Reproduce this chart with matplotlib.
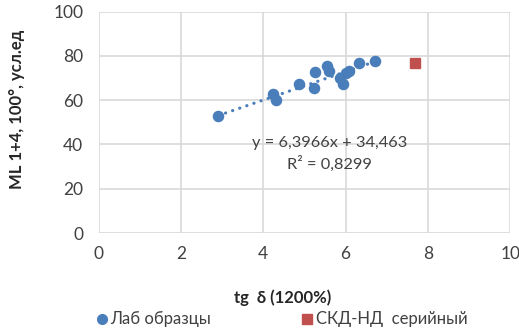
import numpy as np
import matplotlib
matplotlib.use("Agg")
import matplotlib.pyplot as plt
from matplotlib.lines import Line2D

plt.rcParams['font.family'] = ['Lato', 'Open Sans', 'DejaVu Sans']

# --- data ---
lab_x = [2.91, 4.24, 4.31, 4.87, 5.24, 5.25, 5.55, 5.60, 5.86, 5.93, 6.02, 6.09, 6.33, 6.71]
lab_y = [52.8, 63.0, 60.0, 67.2, 65.6, 72.8, 75.3, 73.2, 69.8, 67.5, 72.1, 73.2, 76.6, 77.7]
serial_x = [7.68]
serial_y = [77.0]

slope, intercept = 6.3966, 34.463
r2 = 0.8299

x_ticks = [0, 2, 4, 6, 8, 10]
y_ticks = [0, 20, 40, 60, 80, 100]

BLUE = '#4A7EBB'
RED = '#C0504D'
TXT = '#404040'

fig = plt.figure(figsize=(5.19, 3.31), dpi=100)
ax = fig.add_axes([0.190, 0.296, 0.793, 0.669])

# trendline over the data range
tx = np.array([min(lab_x), max(lab_x)])
ax.plot(tx, slope * tx + intercept, color=BLUE, lw=2.3,
        linestyle=(0, (0.05, 2.3)), dash_capstyle='round', zorder=2)

ax.plot(lab_x, lab_y, 'o', color=BLUE, ms=7.3, mec=BLUE, zorder=3)
ax.plot(serial_x, serial_y, 's', color=RED, ms=6.5, mec=RED, zorder=3)

ax.text(5.62, 40.6, f'y = {slope:.4f}x + {intercept:.3f}'.replace('.', ','),
        ha='center', va='center', fontsize=11.8, color=TXT)
ax.text(5.62, 31.2, f'R² = {r2:.4f}'.replace('.', ','),
        ha='center', va='center', fontsize=11.8, color=TXT)

ax.set_xlim(0, 10)
ax.set_ylim(0, 100)
ax.set_xticks(x_ticks)
ax.set_yticks(y_ticks)
ax.grid(True, color='#D9D9D9', lw=1.2)
ax.set_axisbelow(True)
for s in ax.spines.values():
    s.set_visible(False)
ax.tick_params(length=0, labelsize=12.5, labelcolor=TXT)
ax.tick_params(axis='y', pad=11)
ax.tick_params(axis='x', pad=9)

ax.set_xlabel('tg  δ (1200%)', fontsize=12, fontweight='bold', color='#262626')
ax.xaxis.set_label_coords(0.448, -0.255)
ax.set_ylabel('ML 1+4, 100°, усл.ед', fontsize=12, fontweight='bold', color='#262626')
ax.yaxis.set_label_coords(-0.18, 0.56)

handles = [
    Line2D([0], [0], marker='o', ls='', color=BLUE, ms=7, label='Лаб образцы'),
    Line2D([0], [0], marker='s', ls='', color=RED, ms=6.5, label='СКД-НД  серийный'),
]
fig.legend(handles=handles, loc='center', bbox_to_anchor=(0.54, 0.035), ncol=2,
           frameon=False, fontsize=12, handletextpad=0.0, columnspacing=5.3,
           handlelength=1.0, labelcolor=TXT)

fig.savefig('out.png', dpi=100)
